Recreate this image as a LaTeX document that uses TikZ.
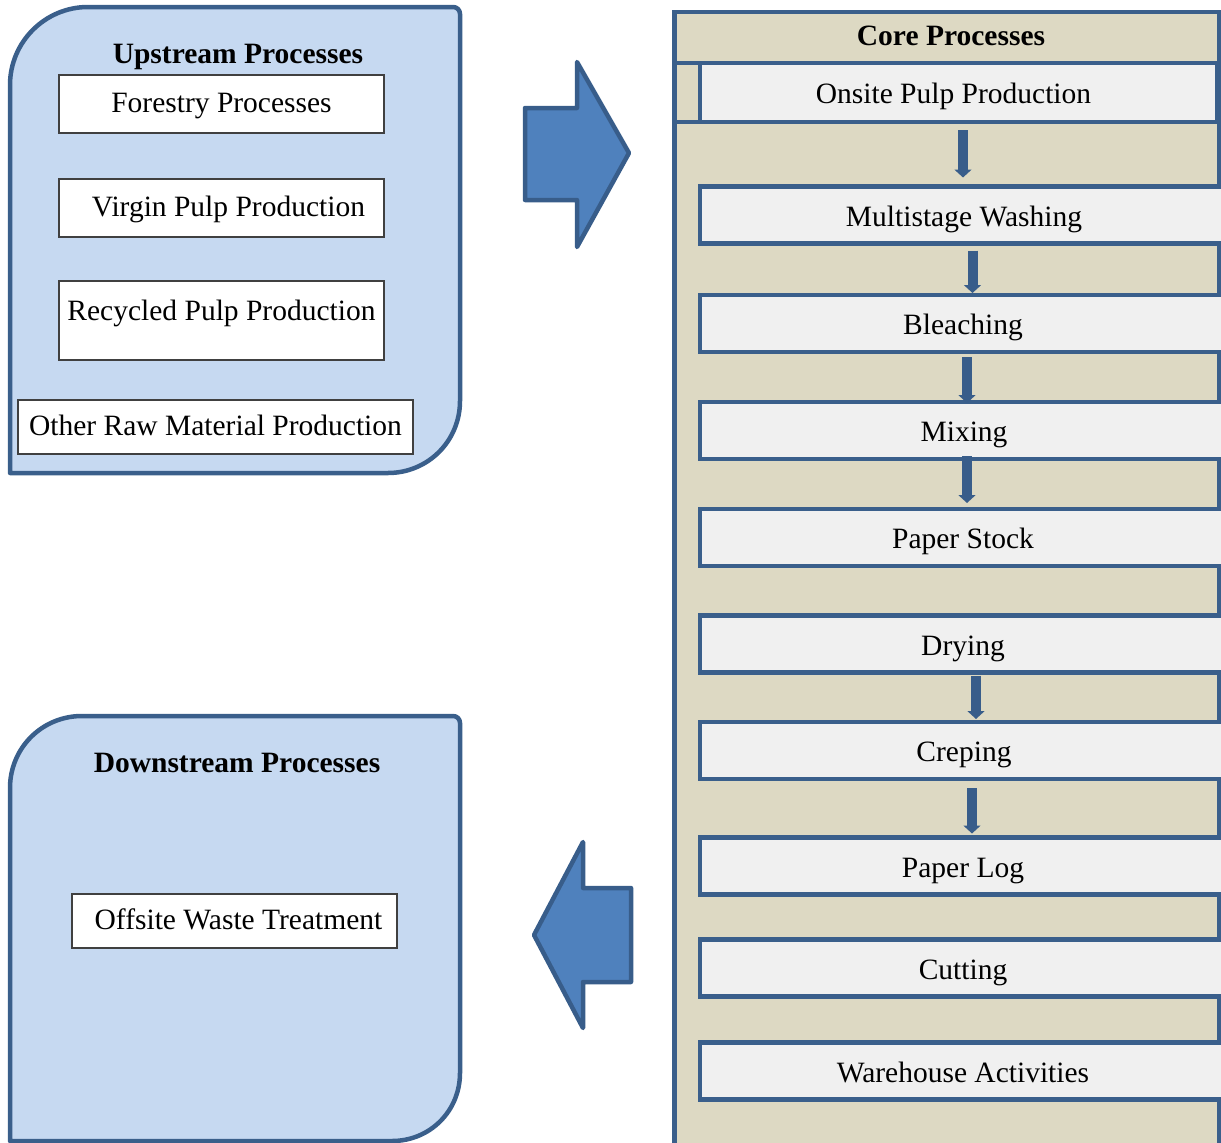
\documentclass[tikz,border=0pt]{standalone}
\usepackage{fontspec}
\setmainfont{Liberation Serif}
\usetikzlibrary{arrows.meta}
\definecolor{edgeblue}{HTML}{3A5F8B}
\definecolor{boxfill}{HTML}{C6D9F1}
\definecolor{arrowfill}{HTML}{4F81BD}
\definecolor{arrowedge}{HTML}{385D8A}
\definecolor{corefill}{HTML}{DDD9C3}
\definecolor{procfill}{HTML}{F0F0F0}
\begin{document}
\begin{tikzpicture}[x=1pt,y=-1pt,
  every node/.style={font=\fontsize{29.5}{33}\selectfont, inner sep=0pt, outer sep=0pt},
  bigbox/.style={draw=edgeblue, line width=4.5pt, fill=boxfill, line join=round},
  wbox/.style={draw=black!75, line width=1.3pt, fill=white, minimum width=325pt, text height=21pt, text depth=4pt},
  titletext/.style={font=\fontsize{29.5}{33}\selectfont\bfseries, anchor=base},
  proc/.style={draw=edgeblue, line width=4.5pt, fill=procfill, minimum height=57pt, text height=22pt, text depth=0pt},
  corecol/.style={draw=edgeblue, line width=4.5pt, fill=corefill},
  bigarrow/.style={draw=arrowedge, line width=4.5pt, fill=arrowfill, line join=round},
  smallarrow/.style={draw=arrowedge, line width=10pt, -{Triangle[width=17pt,length=8pt]}}
]
\useasboundingbox (0,0) rectangle (1221,1143);

% ---------- Upstream ----------
\draw[bigbox] (10,473) -- (10,85) .. controls (10,42) and (45,7) .. (88,7)
  -- (453,7) .. controls (457,7) and (460,10) .. (460,14)
  -- (460,401) .. controls (460,441) and (428,473) .. (388,473) -- cycle;
\node[titletext] (uptitle) at (238,63) {Upstream Processes};
\node[wbox, minimum height=58pt] (forestry) at (221.5,104) {Forestry Processes};
\node[wbox, minimum height=58pt] (virgin) at (221.5,208) {\hspace*{14pt}Virgin Pulp Production};
\node[wbox, anchor=base, text height=39pt, text depth=40pt] (recycled) at (221.5,320) {Recycled Pulp Production};
\node[wbox, minimum width=395pt, minimum height=54pt] (otherraw) at (215.5,427) {Other Raw Material Production};

% ---------- Downstream ----------
\draw[bigbox] (10,1141) -- (10,788) .. controls (10,748) and (42,716) .. (82,716)
  -- (453,716) .. controls (457,716) and (460,719) .. (460,723)
  -- (460,1073) .. controls (460,1111) and (430,1141) .. (392,1141) -- cycle;
\node[titletext] (downtitle) at (237,772.5) {Downstream Processes};
\node[wbox, minimum height=54pt] (offsite) at (234.5,921) {\hspace*{8pt}Offsite Waste Treatment};

% ---------- Big arrows ----------
\draw[bigarrow] (525,108) -- (577,108) -- (577,62) -- (629,153) -- (577,247)
  -- (577,200) -- (525,200) -- cycle;
\draw[bigarrow] (631,888) -- (583,888) -- (583,842) -- (534,935) -- (583,1028)
  -- (583,982) -- (631,982) -- cycle;

% ---------- Core column ----------
\draw[corecol] (674.5,122) rectangle (1219.5,1145);
\draw[corecol] (674.5,63) rectangle (1219.5,122);
\node[corecol, minimum width=545pt, minimum height=51pt] (coretitle) at (947,37.5) {};
\node[titletext] (coretext) at (951,45) {Core Processes};

\node[proc, minimum width=517pt, minimum height=59pt] (onsite) at (958.5,92.5) {\hspace*{-10pt}Onsite Pulp Production};
\node[proc, minimum width=540pt] (wash)   at (970,215)   {\hspace*{-12pt}Multistage Washing};
\node[proc, minimum width=540pt] (bleach) at (970,323.5) {\hspace*{-14pt}Bleaching};
\node[proc, minimum width=540pt] (mix)    at (970,430.5) {\hspace*{-12pt}Mixing};
\node[proc, minimum width=540pt] (stock)  at (970,537.5) {\hspace*{-14pt}Paper Stock};
\node[proc, minimum width=540pt] (dry)    at (970,644)   {\hspace*{-14pt}Drying};
\node[proc, minimum width=540pt] (crepe)  at (970,750.5) {\hspace*{-12pt}Creping};
\node[proc, minimum width=540pt] (plog)   at (970,866)   {\hspace*{-14pt}Paper Log};
\node[proc, minimum width=540pt] (cut)    at (970,968)   {\hspace*{-14pt}Cutting};
\node[proc, minimum width=540pt] (ware)   at (970,1071)  {\hspace*{-14pt}Warehouse Activities};

% ---------- Small arrows ----------
\draw[smallarrow] ([xshift=4.5pt,yshift=-8pt]onsite.south) -- ([xshift=-7pt,yshift=9pt]wash.north);
\draw[smallarrow] ([xshift=2.5pt,yshift=-7pt]wash.south) -- ([xshift=2.5pt,yshift=2pt]bleach.north);
\draw[smallarrow] ([xshift=-3pt,yshift=-5pt]bleach.south) -- ([xshift=-3pt,yshift=-1pt]mix.north);
\draw[smallarrow] ([xshift=-3pt,yshift=3pt]mix.south) -- ([xshift=-3pt,yshift=6pt]stock.north);
\draw[smallarrow] ([xshift=6pt,yshift=-3pt]dry.south) -- ([xshift=6pt,yshift=3pt]crepe.north);
\draw[smallarrow] ([xshift=2pt,yshift=-9pt]crepe.south) -- ([xshift=2pt,yshift=4pt]plog.north);
\end{tikzpicture}
\end{document}
